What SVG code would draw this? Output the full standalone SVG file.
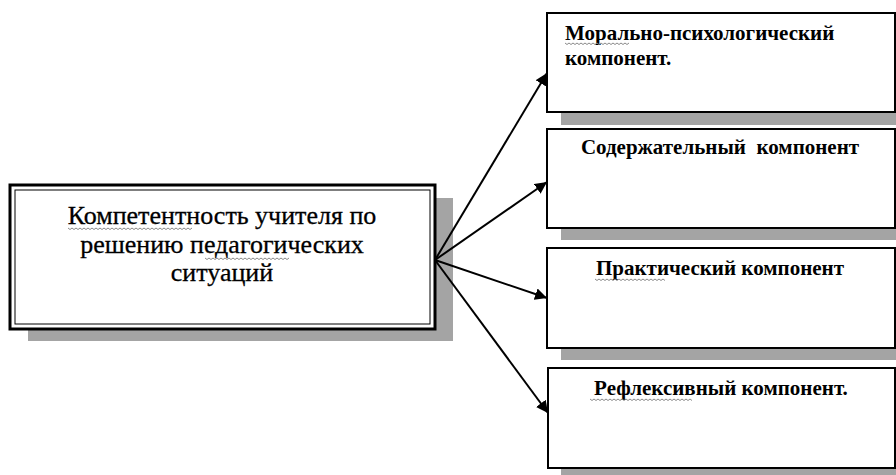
<svg xmlns="http://www.w3.org/2000/svg" width="896" height="475" viewBox="0 0 896 475">
<style>
.shadow{fill:#a4a4a4}
.box{fill:#fff;stroke:#000;stroke-width:2}
.wave{fill:none;stroke:#8a8a8a;stroke-width:1}
.conn{stroke:#000;stroke-width:2;fill:none}
.sub{font-family:'Liberation Serif',serif;font-size:21px;font-weight:bold;fill:#000}
.main{font-family:'Liberation Serif',serif;font-size:26px;fill:#000;stroke:#000;stroke-width:0.3}
</style>
<defs>
<marker id="ah" viewBox="0 0 10 10" refX="10" refY="5" markerWidth="6" markerHeight="6" markerUnits="strokeWidth" orient="auto">
<path d="M0,0 L10,5 L0,10 z" fill="#000"/>
</marker>
</defs>
<g id="main-node">
<rect class="shadow" x="28" y="198" width="425" height="143"/>
<rect x="10" y="185" width="425" height="144" fill="#fff" stroke="#000" stroke-width="3"/>
<rect x="15" y="190" width="415" height="134" fill="none" stroke="#000" stroke-width="1"/>
<text class="main" text-anchor="middle"><tspan x="222" y="224">Компетентность учителя по</tspan><tspan x="222" y="253">решению педагогических</tspan><tspan x="222" y="281">ситуаций</tspan></text>
<path class="wave" d="M68,228 l2,1.5 l2,-1.5 l2,1.5 l2,-1.5 l2,1.5 l2,-1.5 l2,1.5 l2,-1.5 l2,1.5 l2,-1.5 l2,1.5 l2,-1.5 l2,1.5 l2,-1.5 l2,1.5 l2,-1.5 l2,1.5 l2,-1.5 l2,1.5 l2,-1.5 l2,1.5 l2,-1.5 l2,1.5 l2,-1.5 l2,1.5 l2,-1.5 l2,1.5 l2,-1.5 l2,1.5 l2,-1.5 l2,1.5 l2,-1.5 l2,1.5 l2,-1.5 l2,1.5 l2,-1.5 l2,1.5 l2,-1.5 l2,1.5 l2,-1.5 l2,1.5 l2,-1.5 l2,1.5 l2,-1.5 l2,1.5 l2,-1.5 l2,1.5 l2,-1.5 l2,1.5 l2,-1.5 l2,1.5 l2,-1.5 l2,1.5 l2,-1.5 l2,1.5 l2,-1.5 l2,1.5 l2,-1.5 l2,1.5 l2,-1.5 l2,1.5 l2,-1.5"/>
<path class="wave" d="M205,258 l2,1.5 l2,-1.5 l2,1.5 l2,-1.5 l2,1.5 l2,-1.5 l2,1.5 l2,-1.5 l2,1.5 l2,-1.5 l2,1.5 l2,-1.5 l2,1.5 l2,-1.5 l2,1.5 l2,-1.5 l2,1.5 l2,-1.5 l2,1.5 l2,-1.5 l2,1.5 l2,-1.5 l2,1.5 l2,-1.5 l2,1.5 l2,-1.5 l2,1.5 l2,-1.5 l2,1.5 l2,-1.5 l2,1.5 l2,-1.5 l2,1.5 l2,-1.5 l2,1.5 l2,-1.5 l2,1.5 l2,-1.5 l2,1.5 l2,-1.5 l2,1.5 l2,-1.5"/>
</g>
<g id="node-1">
<rect class="shadow" x="561" y="25" width="340" height="100"/>
<rect class="box" x="547" y="13" width="348" height="99"/>
<text class="sub"><tspan x="565" y="40">Морально-психологический</tspan><tspan x="565" y="65">компонент.</tspan></text>
<path class="wave" d="M565,43 l2,1.5 l2,-1.5 l2,1.5 l2,-1.5 l2,1.5 l2,-1.5 l2,1.5 l2,-1.5 l2,1.5 l2,-1.5 l2,1.5 l2,-1.5 l2,1.5 l2,-1.5 l2,1.5 l2,-1.5 l2,1.5 l2,-1.5 l2,1.5 l2,-1.5 l2,1.5 l2,-1.5 l2,1.5 l2,-1.5 l2,1.5 l2,-1.5 l2,1.5 l2,-1.5 l2,1.5 l2,-1.5 l2,1.5 l2,-1.5"/>
</g>
<g id="node-2">
<rect class="shadow" x="561" y="140" width="340" height="100"/>
<rect class="box" x="547" y="129" width="348" height="99"/>
<text class="sub" x="720" y="154" text-anchor="middle" xml:space="preserve">Содержательный  компонент</text>
</g>
<g id="node-3">
<rect class="shadow" x="561" y="260" width="340" height="100"/>
<rect class="box" x="547" y="248" width="348" height="100"/>
<text class="sub" x="720" y="275" text-anchor="middle">Практический компонент</text>
<path class="wave" d="M595,279 l2,1.5 l2,-1.5 l2,1.5 l2,-1.5 l2,1.5 l2,-1.5 l2,1.5 l2,-1.5 l2,1.5 l2,-1.5 l2,1.5 l2,-1.5 l2,1.5 l2,-1.5 l2,1.5 l2,-1.5 l2,1.5 l2,-1.5 l2,1.5 l2,-1.5 l2,1.5 l2,-1.5 l2,1.5 l2,-1.5 l2,1.5 l2,-1.5 l2,1.5 l2,-1.5 l2,1.5 l2,-1.5 l2,1.5 l2,-1.5 l2,1.5 l2,-1.5 l2,1.5"/>
</g>
<g id="node-4">
<rect class="shadow" x="561" y="380" width="340" height="100"/>
<rect class="box" x="548" y="368" width="347" height="100"/>
<text class="sub" x="721" y="395" text-anchor="middle">Рефлексивный компонент.</text>
<path class="wave" d="M590,399 l2,1.5 l2,-1.5 l2,1.5 l2,-1.5 l2,1.5 l2,-1.5 l2,1.5 l2,-1.5 l2,1.5 l2,-1.5 l2,1.5 l2,-1.5 l2,1.5 l2,-1.5 l2,1.5 l2,-1.5 l2,1.5 l2,-1.5 l2,1.5 l2,-1.5 l2,1.5 l2,-1.5 l2,1.5 l2,-1.5 l2,1.5 l2,-1.5 l2,1.5 l2,-1.5 l2,1.5 l2,-1.5 l2,1.5 l2,-1.5 l2,1.5 l2,-1.5 l2,1.5 l2,-1.5 l2,1.5 l2,-1.5 l2,1.5 l2,-1.5 l2,1.5 l2,-1.5 l2,1.5 l2,-1.5 l2,1.5 l2,-1.5 l2,1.5 l2,-1.5 l2,1.5 l2,-1.5 l2,1.5"/>
</g>
<g id="connectors">
<line class="conn" x1="435" y1="260" x2="547" y2="73" marker-end="url(#ah)"/>
<line class="conn" x1="435" y1="260" x2="547" y2="182" marker-end="url(#ah)"/>
<line class="conn" x1="435" y1="260" x2="547" y2="298" marker-end="url(#ah)"/>
<line class="conn" x1="435" y1="260" x2="548" y2="413" marker-end="url(#ah)"/>
</g>
</svg>
